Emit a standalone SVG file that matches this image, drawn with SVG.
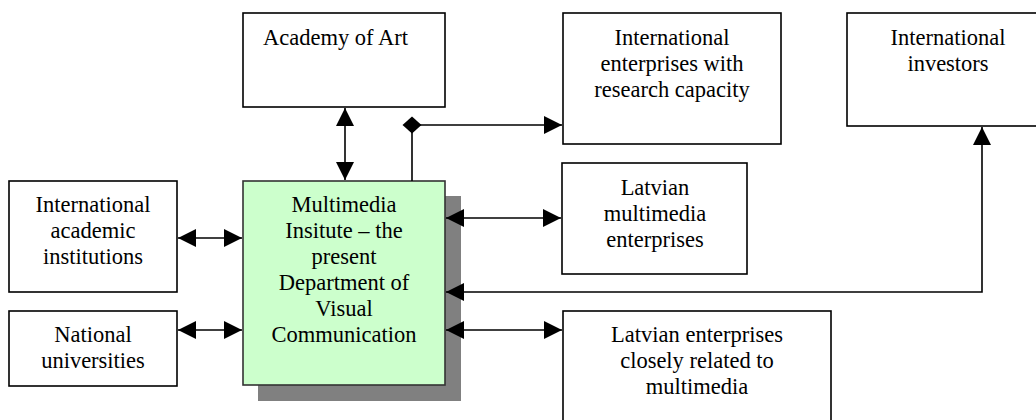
<svg xmlns="http://www.w3.org/2000/svg" width="1036" height="420" viewBox="0 0 1036 420">
<style>
  .box { fill: #ffffff; stroke: #000000; stroke-width: 1.6; }
  .main { fill: #ccffcc; stroke: #333333; stroke-width: 1.6; }
  .shadow { fill: #808080; stroke: none; }
  text { font-family: "Liberation Serif", "Times New Roman", serif; font-size: 22.5px; fill: #000000; }
  .c { text-anchor: middle; }
  .conn { fill: none; stroke: #000000; stroke-width: 1.6; }
</style>
<defs>
  <marker id="arrow" viewBox="0 0 18 18" refX="18" refY="9" markerWidth="18" markerHeight="18" markerUnits="userSpaceOnUse" orient="auto-start-reverse">
    <path d="M0,0 L18,9 L0,18 z" fill="#000000"/>
  </marker>
</defs>
<rect x="0" y="0" width="1036" height="420" fill="#ffffff"/>

<g id="academy">
  <rect class="box" x="243" y="13" width="202" height="94"/>
  <text x="263" y="45">Academy of Art</text>
</g>

<g id="intl-enterprises">
  <rect class="box" x="563" y="13" width="218" height="131"/>
  <text class="c" x="672" y="45">International</text>
  <text class="c" x="672" y="71">enterprises with</text>
  <text class="c" x="672" y="97">research capacity</text>
</g>

<g id="intl-investors">
  <rect class="box" x="847" y="13" width="202" height="113"/>
  <text class="c" x="948" y="45">International</text>
  <text class="c" x="948" y="71">investors</text>
</g>

<g id="intl-academic">
  <rect class="box" x="9" y="181" width="168" height="111"/>
  <text class="c" x="93" y="212">International</text>
  <text class="c" x="93" y="238">academic</text>
  <text class="c" x="93" y="264">institutions</text>
</g>

<g id="national-universities">
  <rect class="box" x="9" y="311" width="168" height="75"/>
  <text class="c" x="93" y="342">National</text>
  <text class="c" x="93" y="368">universities</text>
</g>

<g id="multimedia-institute">
  <rect class="shadow" x="258" y="196" width="203" height="205"/>
  <rect class="main" x="243" y="181" width="202" height="204"/>
  <text class="c" x="344" y="212">Multimedia</text>
  <text class="c" x="344" y="238">Insitute – the</text>
  <text class="c" x="344" y="264">present</text>
  <text class="c" x="344" y="290">Department of</text>
  <text class="c" x="344" y="316">Visual</text>
  <text class="c" x="344" y="342">Communication</text>
</g>

<g id="latvian-multimedia">
  <rect class="box" x="562" y="163" width="185" height="111"/>
  <text class="c" x="655" y="195">Latvian</text>
  <text class="c" x="655" y="221">multimedia</text>
  <text class="c" x="655" y="247">enterprises</text>
</g>

<g id="latvian-related">
  <rect class="box" x="563" y="311" width="268" height="130"/>
  <text class="c" x="697" y="342">Latvian enterprises</text>
  <text class="c" x="697" y="368">closely related to</text>
  <text class="c" x="697" y="394">multimedia</text>
</g>

<g id="connectors">
  <line class="conn" x1="345" y1="108" x2="345" y2="180" marker-start="url(#arrow)" marker-end="url(#arrow)"/>
  <polyline class="conn" points="412,181 412,125 562,125" marker-end="url(#arrow)"/>
  <polygon points="402.5,125 412,116.5 421.5,125 412,133.5" fill="#000000"/>
  <line class="conn" x1="178" y1="238" x2="242" y2="238" marker-start="url(#arrow)" marker-end="url(#arrow)"/>
  <line class="conn" x1="178" y1="330" x2="242" y2="330" marker-start="url(#arrow)" marker-end="url(#arrow)"/>
  <line class="conn" x1="446" y1="218" x2="561" y2="218" marker-start="url(#arrow)" marker-end="url(#arrow)"/>
  <polyline class="conn" points="446,292 982,292 982,127" marker-start="url(#arrow)" marker-end="url(#arrow)"/>
  <line class="conn" x1="446" y1="330" x2="562" y2="330" marker-start="url(#arrow)" marker-end="url(#arrow)"/>
</g>
</svg>
